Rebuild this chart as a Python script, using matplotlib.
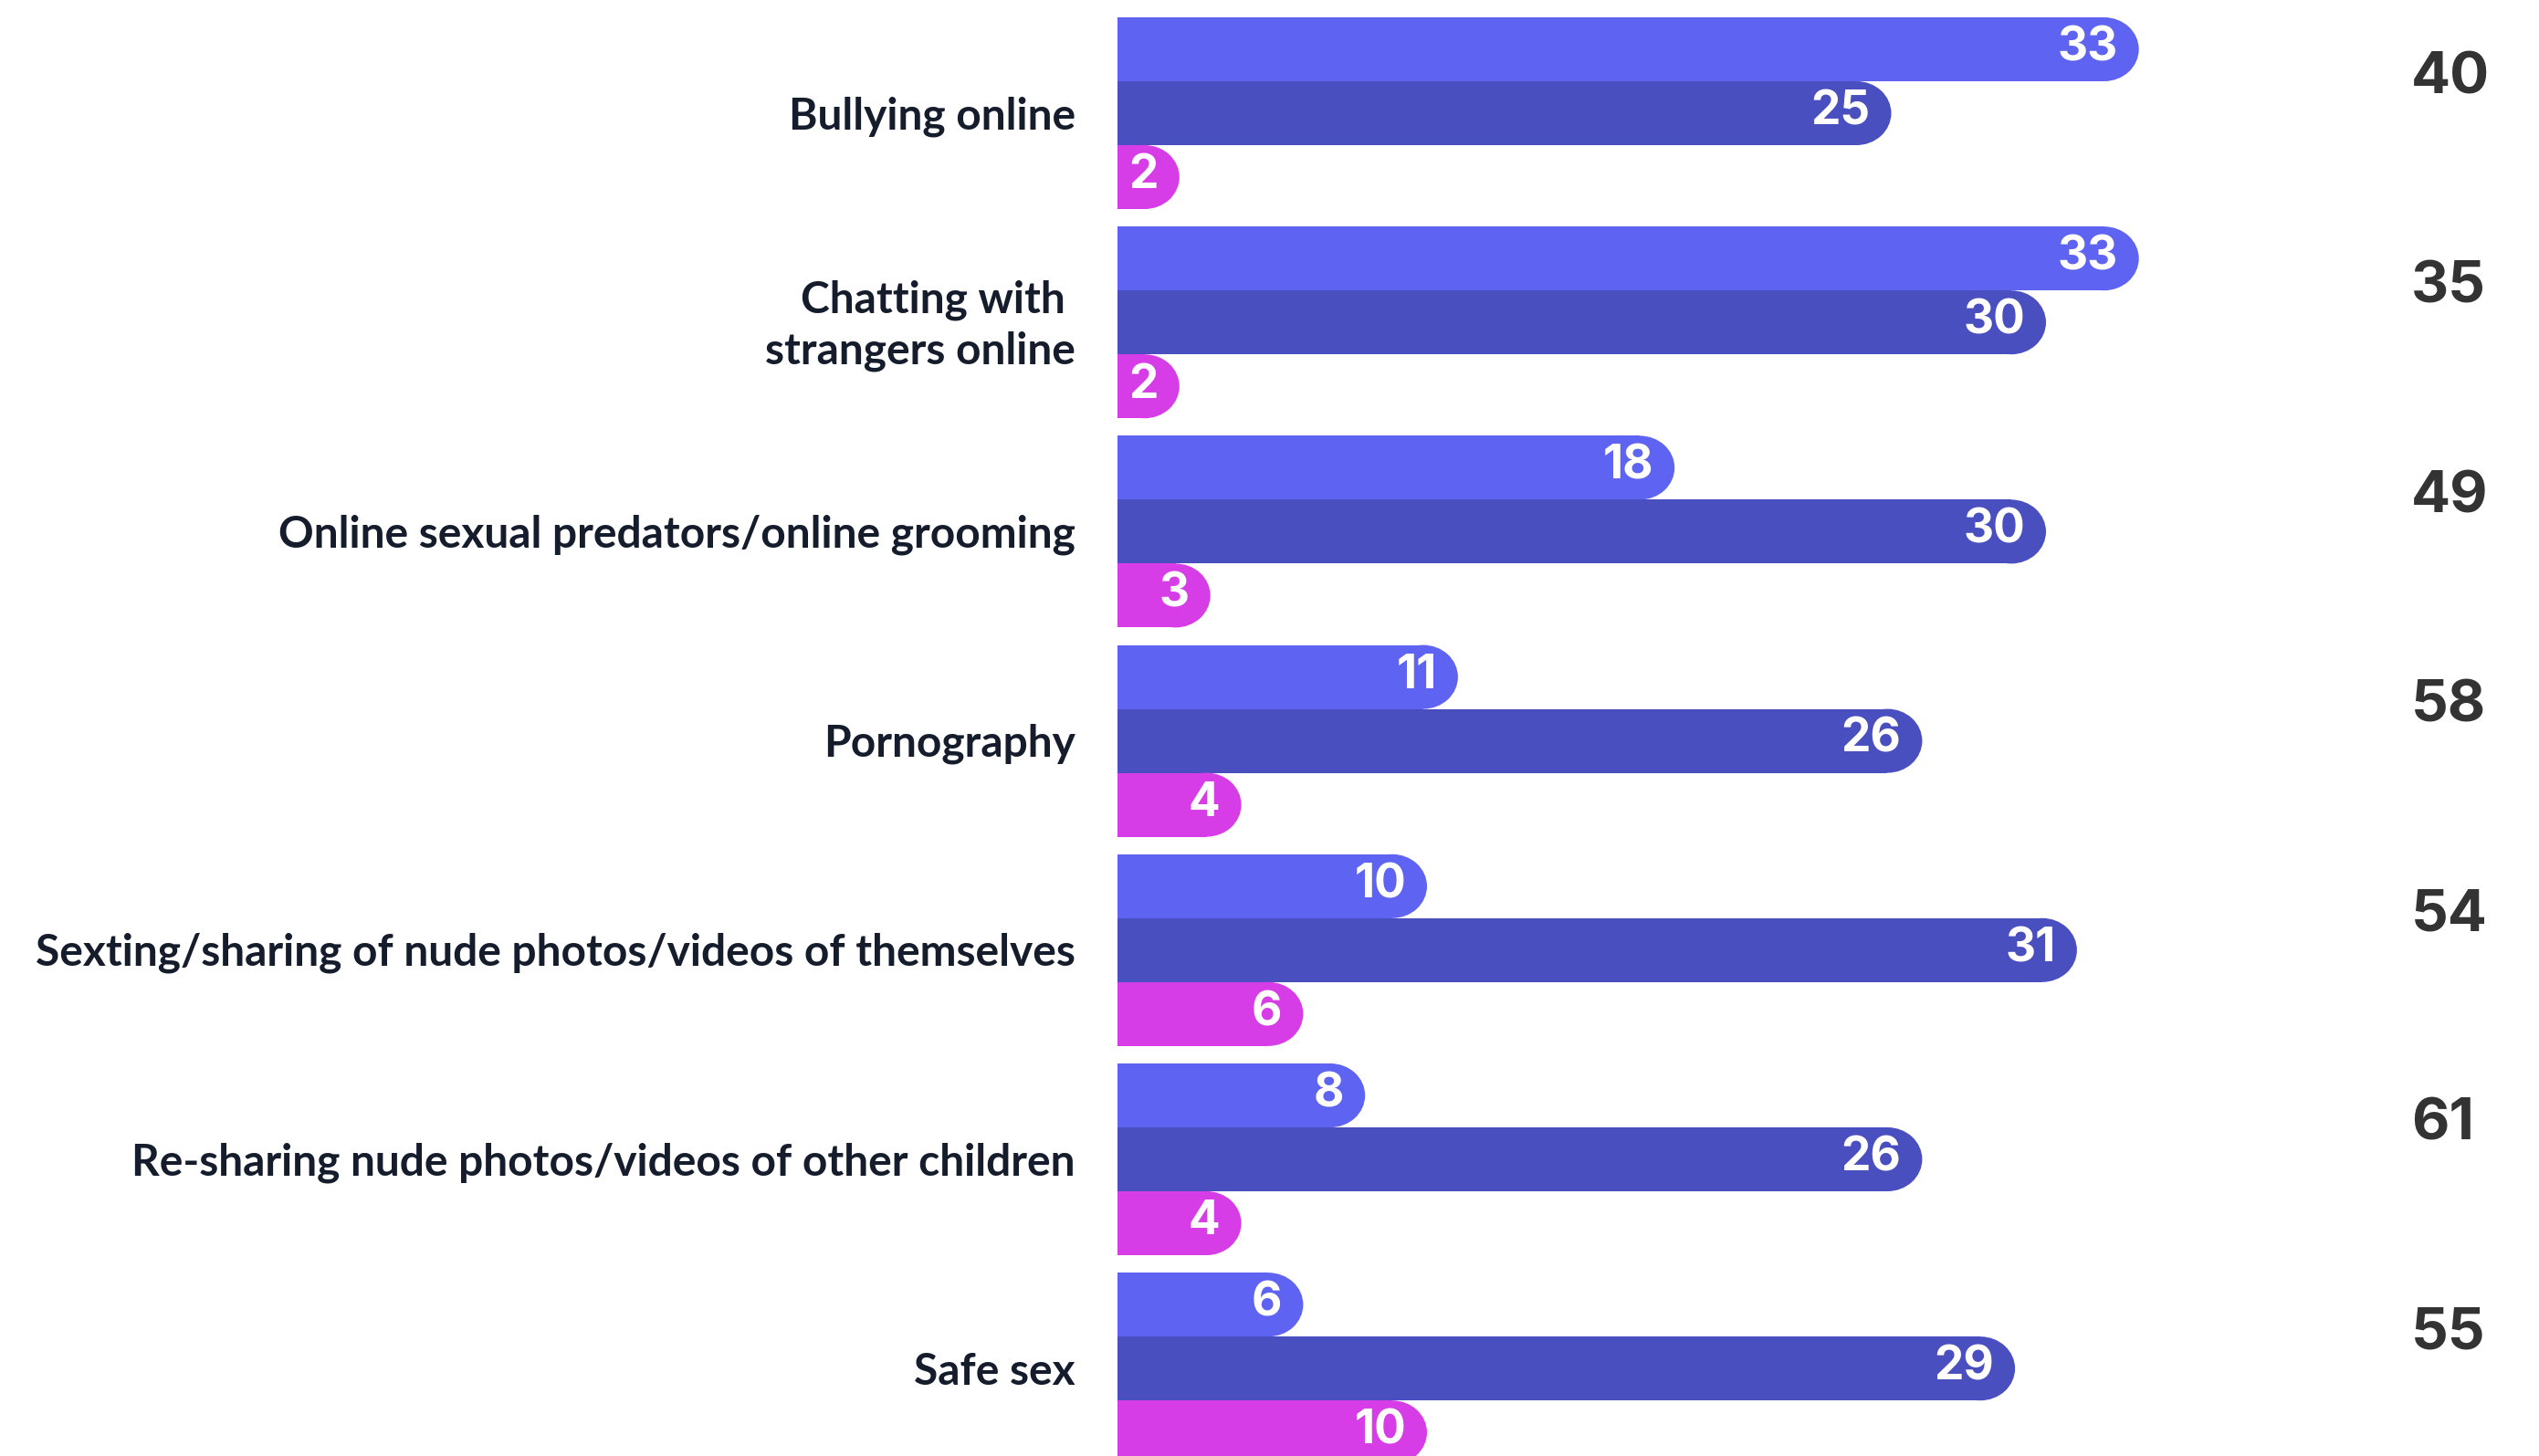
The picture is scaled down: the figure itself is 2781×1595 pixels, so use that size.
import matplotlib
matplotlib.use("Agg")
import matplotlib.pyplot as plt
from matplotlib.patches import Ellipse
from matplotlib import font_manager as fm

categories = [
    "Bullying online",
    "Chatting with \nstrangers online",
    "Online sexual predators/online grooming",
    "Pornography",
    "Sexting/sharing of nude photos/videos of themselves",
    "Re-sharing nude photos/videos of other children",
    "Safe sex",
]
series_a = [33, 33, 18, 11, 10, 8, 6]
series_b = [25, 30, 30, 26, 31, 26, 29]
series_c = [2, 2, 3, 4, 6, 4, 10]
remainder = [40, 35, 49, 58, 54, 61, 55]

colors = ["#5e63f2", "#4a4fc0", "#d63de6"]

avail = {f.name for f in fm.fontManager.ttflist}
label_font = "Lato" if "Lato" in avail else "DejaVu Sans"
num_font = "Inter" if "Inter" in avail else "DejaVu Sans"

W, H = 2781, 1595
dpi = 100
fig = plt.figure(figsize=(W / dpi, H / dpi), dpi=dpi)
x0_px = 1224
ax = fig.add_axes([x0_px / W, 0, 1 - x0_px / W, 1])

px_per_unit = 33.9
ax.set_xlim(0, (W - x0_px) / px_per_unit)
pitch_px = 229.2
c0_px = 124
ax.set_ylim((H - c0_px) / pitch_px, -c0_px / pitch_px)
ax.axis("off")

h = 70 / pitch_px
rx = 38 / px_per_unit
gap_lbl = 23 / px_per_unit

for si, (vals, col) in enumerate(zip([series_a, series_b, series_c], colors)):
    for i, v in enumerate(vals):
        y = i + (si - 1) * h
        ax.barh(y, v - rx, height=h, left=0, color=col, linewidth=0, zorder=2)
        e = Ellipse((v - rx, y), 2 * rx, h, facecolor=col,
                    edgecolor="none", zorder=2)
        ax.add_patch(e)
        e.set_clip_box(ax.bbox)
        ax.text(v - gap_lbl, y - 0.005, str(v), ha="right", va="center",
                color="white", fontsize=37, fontweight="bold",
                family=num_font, zorder=3)

for i, cat in enumerate(categories):
    ax.text(-46 / px_per_unit, i + 0.015, cat, ha="right", va="center",
            fontsize=34.5, fontweight="bold", family=label_font,
            color="#151c2c", linespacing=1.3, clip_on=False)

for i, r in enumerate(remainder):
    ax.text(41.8, i - 0.165, str(r), ha="left", va="center",
            fontsize=46, fontweight="bold", family=num_font, color="#333333",
            clip_on=False)

fig.savefig("out.png", dpi=dpi, facecolor="white")
